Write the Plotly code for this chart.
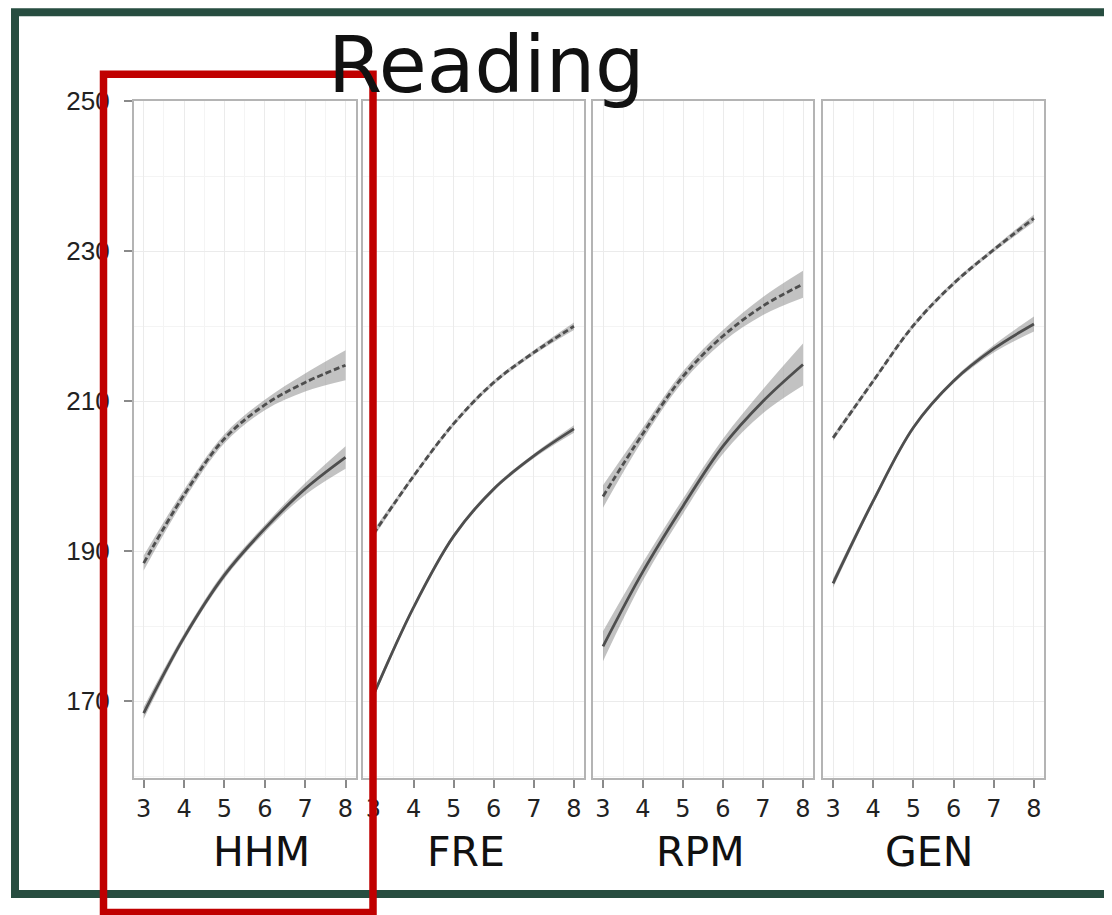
import plotly.graph_objects as go

# Measured page geometry: figure starts 8px from the left and 22px from the top
# of the page; the captured page height (~930px) is shown as 915px.
OFF_X = 8
OFF_TOP = 22
VSCALE = 915 / 930
W = 1112 - 2 * OFF_X
H = 930 - OFF_TOP

# ---------------- data ----------------
grades = [3, 4, 5, 6, 7, 8]
panels = ["HHM", "FRE", "RPM", "GEN"]
y_ticks = [170, 190, 210, 230, 250]

hhm_dashed = [188.4, 197.5, 205.0, 209.5, 212.5, 214.8]
hhm_dashed_band = [1.0, 0.7, 0.6, 0.7, 1.2, 2.0]
hhm_solid = [168.4, 178.5, 186.8, 193.0, 198.3, 202.5]
hhm_solid_band = [0.8, 0.5, 0.5, 0.5, 0.8, 1.5]

fre_dashed = [192.3, 200.0, 207.0, 212.5, 216.5, 220.0]
fre_dashed_band = [0.5, 0.3, 0.3, 0.3, 0.3, 0.5]
fre_solid = [170.8, 182.5, 192.0, 198.3, 202.7, 206.3]
fre_solid_band = [0.5, 0.3, 0.3, 0.3, 0.3, 0.5]

rpm_dashed = [197.3, 205.7, 213.3, 218.7, 222.7, 225.6]
rpm_dashed_band = [1.5, 0.8, 0.7, 0.8, 1.2, 1.8]
rpm_solid = [177.3, 187.3, 196.0, 204.0, 210.0, 214.9]
rpm_solid_band = [2.0, 1.2, 1.0, 1.0, 1.6, 2.8]

gen_dashed = [205.1, 212.7, 220.1, 225.7, 230.2, 234.4]
gen_dashed_band = [0.4, 0.3, 0.3, 0.3, 0.3, 0.5]
gen_solid = [185.7, 196.7, 206.5, 212.7, 217.0, 220.3]
gen_solid_band = [0.6, 0.4, 0.3, 0.3, 0.5, 1.0]

series = {
    "HHM": (hhm_dashed, hhm_dashed_band, hhm_solid, hhm_solid_band),
    "FRE": (fre_dashed, fre_dashed_band, fre_solid, fre_solid_band),
    "RPM": (rpm_dashed, rpm_dashed_band, rpm_solid, rpm_solid_band),
    "GEN": (gen_dashed, gen_dashed_band, gen_solid, gen_solid_band),
}

# ---------------- layout helpers (screen pixel -> paper) ----------------
def px_x(p):
    return (p - OFF_X) / W

def px_y(p):
    return 1 - (p / VSCALE - OFF_TOP) / H

panel_px = [(133.6, 355.6), (363.4, 584.0), (593.0, 813.0), (823.0, 1044.0)]
label_cx = [261, 466, 700, 929]
y_top, y_bot = 100, 777
y_range = [159.73, 250]
x_range = [2.75, 8.25]

LINE = "#4e4e4e"
BAND = "rgba(120,120,120,0.45)"

fig = go.Figure()

for i, name in enumerate(panels):
    ax = "" if i == 0 else str(i + 1)
    d, db, s, sb = series[name]
    for mean, band, dash in ((d, db, "6px,3px"), (s, sb, "solid")):
        upper = [m + b for m, b in zip(mean, band)]
        lower = [m - b for m, b in zip(mean, band)]
        fig.add_trace(go.Scatter(x=grades, y=upper, mode="lines",
                                 line=dict(width=0, shape="spline", color=BAND),
                                 xaxis="x" + ax, yaxis="y" + ax,
                                 showlegend=False, hoverinfo="skip"))
        fig.add_trace(go.Scatter(x=grades, y=lower, mode="lines",
                                 line=dict(width=0, shape="spline", color=BAND),
                                 fill="tonexty", fillcolor=BAND,
                                 xaxis="x" + ax, yaxis="y" + ax,
                                 showlegend=False, hoverinfo="skip"))
        fig.add_trace(go.Scatter(x=grades, y=mean, mode="lines",
                                 line=dict(width=2.8, shape="spline", color=LINE, dash=dash),
                                 xaxis="x" + ax, yaxis="y" + ax,
                                 showlegend=False))

layout = dict(
    width=W, height=H, autosize=False,
    margin=dict(l=0, r=0, t=0, b=0),
    paper_bgcolor="white", plot_bgcolor="white",
    showlegend=False,
)

for i, name in enumerate(panels):
    ax = "" if i == 0 else str(i + 1)
    x0, x1 = panel_px[i]
    layout["xaxis" + ax] = dict(
        domain=[px_x(x0), px_x(x1)], range=x_range, anchor="y" + ax,
        tickvals=grades, ticks="outside", ticklen=8, tickwidth=1.5,
        tickcolor="#8a8a8a", showline=True, linecolor="#b4b4b4", linewidth=1.5,
        mirror=True, showgrid=True, gridcolor="#ebebeb", gridwidth=1.2,
        minor=dict(dtick=0.5, showgrid=True, gridcolor="#f4f4f4", gridwidth=1),
        tickfont=dict(family="DejaVu Sans", size=24, color="#222"),
        ticklabelstandoff=0, zeroline=False, fixedrange=True,
    )
    layout["yaxis" + ax] = dict(
        domain=[px_y(y_bot), px_y(y_top)], range=y_range, anchor="x" + ax,
        tickvals=y_ticks, ticks="outside" if i == 0 else "", ticklen=8,
        tickwidth=1.5, tickcolor="#8a8a8a",
        showticklabels=(i == 0),
        showline=True, linecolor="#b4b4b4", linewidth=1.5, mirror=True,
        showgrid=True, gridcolor="#ebebeb", gridwidth=1.2,
        minor=dict(dtick=10, showgrid=True, gridcolor="#f4f4f4", gridwidth=1),
        tickfont=dict(family="Liberation Sans", size=26, color="#222"),
        ticklabelstandoff=9, zeroline=False, fixedrange=True,
    )

annotations = [dict(
    text="Reading", x=px_x(486), y=px_y(64), xref="paper", yref="paper",
    showarrow=False, xanchor="center", yanchor="middle",
    font=dict(family="DejaVu Sans", size=78, color="#111"))]
for i, name in enumerate(panels):
    annotations.append(dict(
        text=name, x=px_x(label_cx[i]), y=px_y(851), xref="paper", yref="paper",
        showarrow=False, xanchor="center", yanchor="middle",
        font=dict(family="DejaVu Sans", size=41, color="#111")))
layout["annotations"] = annotations

layout["shapes"] = [
    dict(type="rect", xref="paper", yref="paper",
         x0=px_x(15), x1=px_x(1125), y0=px_y(11), y1=px_y(893),
         line=dict(color="#274d40", width=8), layer="above"),
    dict(type="rect", xref="paper", yref="paper",
         x0=px_x(103.5), x1=px_x(373), y0=px_y(73), y1=px_y(911.5),
         line=dict(color="#c00000", width=7.5), layer="above"),
]

fig.update_layout(**layout)
fig.write_html("out.html")
